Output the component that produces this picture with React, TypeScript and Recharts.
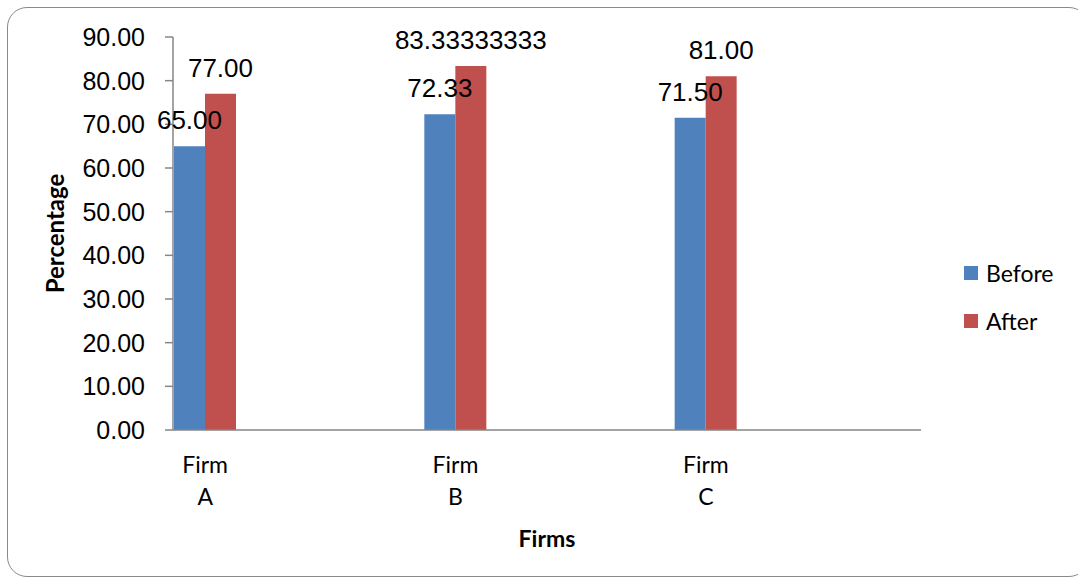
import React from 'react';
import { BarChart, Bar, XAxis, YAxis, Legend, LabelList, Label } from 'recharts';

// Survey results per firm, before and after the change
const firms = ['Firm A', 'Firm B', 'Firm C'];
const beforeValues = [65, 72.33, 71.5];
const afterValues = [77, 83.33333333, 81];
const beforeLabels = ['65.00', '72.33', '71.50'];
const afterLabels = ['77.00', '83.33333333', '81.00'];
const yTicks = [0, 10, 20, 30, 40, 50, 60, 70, 80, 90];
const seriesNames = ['Before', 'After'];
const seriesColors = ['#4F81BD', '#C0504D'];

const data = firms.map((firm, i) => ({
  firm,
  before: beforeValues[i],
  after: afterValues[i],
  beforeLabel: beforeLabels[i],
  afterLabel: afterLabels[i],
}));

const AXIS_GRAY = '#868686';
const SANS = 'Lato, "Open Sans", sans-serif';
const ARIAL = '"Liberation Sans", Arial, sans-serif';

const FirmTick = (props: any) => {
  const { x, y, payload } = props;
  const [first, second] = String(payload.value).split(' ');
  return (
    <text x={x} y={y} textAnchor="middle" fontFamily={SANS} fontSize={23} fill="#000">
      <tspan x={x} dy={43}>{first}</tspan>
      <tspan x={x} dy={32}>{second}</tspan>
    </text>
  );
};

const LegendBox = () => (
  <div style={{ fontFamily: SANS, fontSize: 23, color: '#000' }}>
    {seriesNames.map((name, i) => (
      <div key={name} style={{ display: 'flex', alignItems: 'center', height: 48 }}>
        <span style={{ width: 14, height: 14, background: seriesColors[i], display: 'inline-block', marginRight: 8 }} />
        <span>{name}</span>
      </div>
    ))}
  </div>
);

export default function App() {
  return (
    <div style={{ position: 'absolute', left: 0, top: 0, width: 1078, height: 581, overflow: 'hidden', background: '#fff' }}>
      <div
        style={{
          position: 'absolute',
          left: 7,
          top: 7,
          width: 1080,
          height: 568,
          border: '1px solid #8a8a8a',
          borderRadius: 20,
        }}
      />
      <div style={{ position: 'absolute', left: 0, top: 0 }}>
        <BarChart
          width={1078}
          height={581}
          data={data}
          margin={{ top: 37, right: 157, bottom: 41, left: 73 }}
          barCategoryGap={94}
          barGap={0}
        >
          <XAxis
            dataKey="firm"
            height={110}
            padding={{ left: -93, right: 90 }}
            axisLine={{ stroke: AXIS_GRAY, strokeWidth: 1.5 }}
            tickLine={false}
            tickSize={0}
            tickMargin={0}
            tick={<FirmTick />}
            interval={0}
          >
            <Label
              content={(p: any) => {
                const vb = p.viewBox || {};
                return (
                  <text
                    x={vb.x + vb.width / 2}
                    y={546.5}
                    textAnchor="middle"
                    fontFamily={SANS}
                    fontWeight={700}
                    fontSize={23}
                    fill="#000"
                  >
                    Firms
                  </text>
                );
              }}
            />
          </XAxis>
          <YAxis
            width={100}
            domain={[0, 90]}
            ticks={yTicks}
            interval={0}
            axisLine={{ stroke: AXIS_GRAY, strokeWidth: 1.5 }}
            tickLine={{ stroke: AXIS_GRAY, strokeWidth: 1.5 }}
            tickSize={8}
            tickMargin={20}
            tickFormatter={(v: number) => v.toFixed(2)}
            tick={{ fontFamily: ARIAL, fontSize: 25, fill: '#000' }}
          >
            <Label
              content={(p: any) => {
                const vb = p.viewBox || {};
                const cy = vb.y + vb.height / 2;
                return (
                  <text
                    x={64}
                    y={cy}
                    transform={`rotate(-90, 64, ${cy})`}
                    textAnchor="middle"
                    fontFamily={SANS}
                    fontWeight={700}
                    fontSize={24}
                    fill="#000"
                  >
                    Percentage
                  </text>
                );
              }}
            />
          </YAxis>
          <Legend
            layout="vertical"
            align="center"
            verticalAlign="middle"
            wrapperStyle={{ left: 964, top: 249, width: 110 }}
            content={<LegendBox />}
          />
          <Bar dataKey="before" name={seriesNames[0]} fill={seriesColors[0]} isAnimationActive={false}>
            <LabelList dataKey="beforeLabel" position="top" offset={17} fontFamily={ARIAL} fontSize={26} fill="#000" />
          </Bar>
          <Bar dataKey="after" name={seriesNames[1]} fill={seriesColors[1]} isAnimationActive={false}>
            <LabelList dataKey="afterLabel" position="top" offset={17} fontFamily={ARIAL} fontSize={26} fill="#000" />
          </Bar>
        </BarChart>
      </div>
    </div>
  );
}
